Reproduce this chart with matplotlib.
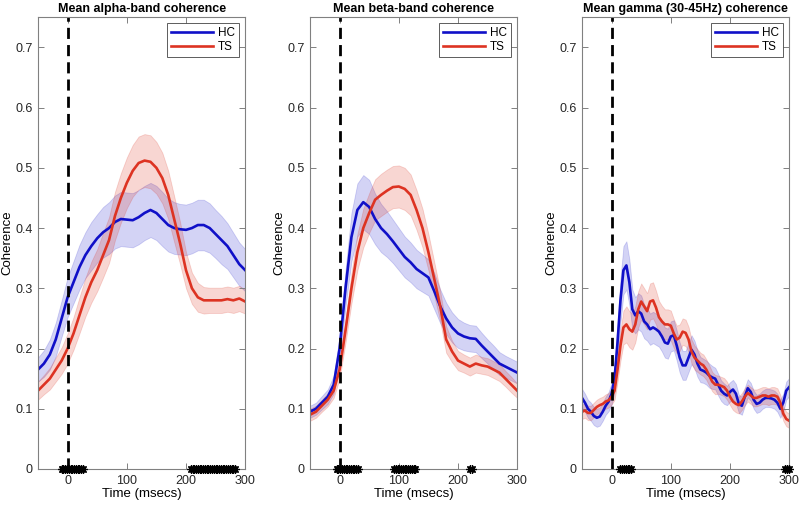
import numpy as np
import matplotlib
matplotlib.use("Agg")
import matplotlib.pyplot as plt

plt.rcParams['font.family'] = ['Liberation Sans', 'DejaVu Sans']

# ---- alpha band ----
t_alpha = [-50, -40, -30, -20, -10, 0, 10, 20, 30, 40, 50, 60, 70, 80, 90, 100, 110, 120,
           130, 140, 150, 160, 170, 180, 190, 200, 210, 220, 230, 240, 250, 260, 270, 280, 290, 300]
hc_alpha = [0.165, 0.175, 0.19, 0.215, 0.25, 0.285, 0.31, 0.335, 0.355, 0.37, 0.383, 0.393,
            0.40, 0.41, 0.415, 0.414, 0.413, 0.418, 0.425, 0.43, 0.425, 0.415, 0.405, 0.40,
            0.398, 0.397, 0.40, 0.405, 0.405, 0.40, 0.39, 0.38, 0.37, 0.355, 0.34, 0.33]
hc_alpha_err = [0.02, 0.022, 0.025, 0.028, 0.03, 0.033, 0.035, 0.037, 0.038, 0.04, 0.04, 0.042,
                0.043, 0.044, 0.045, 0.045, 0.045, 0.045, 0.045, 0.045, 0.045, 0.045, 0.044, 0.043,
                0.042, 0.042, 0.042, 0.042, 0.042, 0.041, 0.04, 0.04, 0.038, 0.037, 0.036, 0.035]
ts_alpha = [0.13, 0.14, 0.15, 0.165, 0.18, 0.20, 0.225, 0.255, 0.285, 0.31, 0.33, 0.355,
            0.38, 0.42, 0.45, 0.475, 0.495, 0.508, 0.512, 0.51, 0.50, 0.483, 0.455, 0.415,
            0.375, 0.33, 0.30, 0.285, 0.28, 0.28, 0.28, 0.28, 0.282, 0.28, 0.283, 0.278]
ts_alpha_err = [0.015, 0.016, 0.018, 0.02, 0.022, 0.025, 0.027, 0.03, 0.032, 0.034, 0.035, 0.037,
                0.038, 0.04, 0.041, 0.042, 0.043, 0.044, 0.044, 0.044, 0.043, 0.042, 0.04, 0.038,
                0.035, 0.03, 0.026, 0.024, 0.022, 0.021, 0.021, 0.021, 0.021, 0.021, 0.021, 0.02]
sig_alpha = [-10, -7, -4, -1, 2, 5, 8, 11, 14, 17, 20, 23, 26,
             208, 211, 214, 217, 220, 223, 226, 229, 232, 235, 238, 241, 244, 247, 250,
             253, 256, 259, 262, 265, 268, 271, 274, 277, 280, 283]

# ---- beta band ----
t_beta = t_alpha
hc_beta = [0.095, 0.10, 0.11, 0.12, 0.14, 0.20, 0.30, 0.385, 0.43, 0.443, 0.435, 0.415,
           0.40, 0.39, 0.378, 0.365, 0.352, 0.343, 0.332, 0.325, 0.318, 0.295, 0.27, 0.25,
           0.235, 0.225, 0.22, 0.217, 0.216, 0.205, 0.195, 0.185, 0.175, 0.17, 0.165, 0.16]
hc_beta_err = [0.01, 0.01, 0.011, 0.012, 0.015, 0.02, 0.03, 0.04, 0.044, 0.045, 0.045, 0.042,
               0.04, 0.038, 0.036, 0.035, 0.034, 0.033, 0.032, 0.031, 0.03, 0.03, 0.028, 0.026,
               0.025, 0.024, 0.023, 0.022, 0.022, 0.021, 0.02, 0.02, 0.019, 0.018, 0.018, 0.018]
ts_beta = [0.09, 0.095, 0.105, 0.115, 0.13, 0.165, 0.23, 0.30, 0.36, 0.40, 0.425, 0.447,
           0.455, 0.462, 0.468, 0.469, 0.465, 0.455, 0.43, 0.40, 0.36, 0.315, 0.27, 0.215,
           0.195, 0.18, 0.175, 0.17, 0.175, 0.172, 0.17, 0.165, 0.16, 0.15, 0.14, 0.13]
ts_beta_err = [0.01, 0.01, 0.01, 0.011, 0.012, 0.015, 0.02, 0.025, 0.03, 0.032, 0.033, 0.034,
               0.035, 0.035, 0.035, 0.035, 0.035, 0.034, 0.033, 0.032, 0.03, 0.028, 0.025, 0.022,
               0.018, 0.016, 0.015, 0.015, 0.015, 0.014, 0.014, 0.014, 0.014, 0.013, 0.013, 0.012]
sig_beta = [-5, -2, 1, 4, 7, 10, 13, 16, 19, 22, 25, 28, 31,
            92, 95, 98, 101, 104, 107, 110, 113, 116, 119, 122, 125, 128,
            221, 223]

# ---- gamma band ----
t_gamma = [-50, -45, -40, -35, -30, -25, -20, -15, -10, -5, 0, 5, 10, 15, 20, 25, 30, 35,
           40, 45, 50, 55, 60, 65, 70, 75, 80, 85, 90, 95, 100, 105, 110, 115, 120, 125,
           130, 135, 140, 145, 150, 155, 160, 165, 170, 175, 180, 185, 190, 195, 200, 205,
           210, 215, 220, 225, 230, 235, 240, 245, 250, 255, 260, 265, 270, 275, 280, 285,
           290, 295, 300]
hc_gamma = [0.118, 0.11, 0.10, 0.095, 0.088, 0.085, 0.087, 0.095, 0.105, 0.112, 0.125, 0.15,
            0.21, 0.28, 0.33, 0.338, 0.31, 0.265, 0.255, 0.262, 0.258, 0.245, 0.24, 0.232,
            0.235, 0.232, 0.228, 0.22, 0.21, 0.208, 0.22, 0.222, 0.205, 0.185, 0.172, 0.172,
            0.185, 0.198, 0.19, 0.175, 0.165, 0.163, 0.16, 0.155, 0.152, 0.15, 0.14, 0.13,
            0.125, 0.122, 0.128, 0.132, 0.125, 0.108, 0.105, 0.12, 0.134, 0.128, 0.115, 0.108,
            0.11, 0.115, 0.118, 0.118, 0.117, 0.115, 0.11, 0.10, 0.11, 0.13, 0.136]
hc_gamma_err = [0.015, 0.015, 0.015, 0.015, 0.015, 0.015, 0.015, 0.015, 0.015, 0.016, 0.018, 0.022,
                0.03, 0.036, 0.04, 0.04, 0.038, 0.033, 0.03, 0.03, 0.03, 0.028, 0.027, 0.026,
                0.026, 0.026, 0.025, 0.025, 0.025, 0.025, 0.025, 0.025, 0.025, 0.025, 0.024, 0.024,
                0.024, 0.024, 0.023, 0.022, 0.021, 0.02, 0.02, 0.02, 0.019, 0.018, 0.018, 0.017,
                0.017, 0.016, 0.016, 0.016, 0.016, 0.015, 0.015, 0.015, 0.015, 0.015, 0.015, 0.015,
                0.015, 0.015, 0.015, 0.015, 0.015, 0.015, 0.015, 0.015, 0.015, 0.015, 0.015]
ts_gamma = [0.095, 0.097, 0.093, 0.093, 0.098, 0.103, 0.106, 0.108, 0.112, 0.114, 0.12, 0.13,
            0.165, 0.205, 0.235, 0.24, 0.232, 0.228, 0.24, 0.265, 0.278, 0.27, 0.262, 0.278,
            0.28, 0.268, 0.252, 0.245, 0.24, 0.24, 0.238, 0.225, 0.215, 0.218, 0.228, 0.226,
            0.215, 0.195, 0.185, 0.18, 0.175, 0.172, 0.165, 0.155, 0.145, 0.14, 0.14, 0.138,
            0.136, 0.13, 0.12, 0.112, 0.108, 0.106, 0.112, 0.12, 0.126, 0.122, 0.118, 0.118,
            0.12, 0.122, 0.122, 0.12, 0.122, 0.122, 0.12, 0.11, 0.092, 0.083, 0.08]
ts_gamma_err = [0.012, 0.012, 0.012, 0.012, 0.012, 0.012, 0.012, 0.012, 0.012, 0.012, 0.013, 0.015,
                0.02, 0.025, 0.028, 0.03, 0.03, 0.03, 0.03, 0.03, 0.03, 0.03, 0.03, 0.03,
                0.03, 0.028, 0.027, 0.026, 0.025, 0.025, 0.025, 0.024, 0.023, 0.022, 0.022, 0.022,
                0.021, 0.02, 0.02, 0.019, 0.018, 0.018, 0.017, 0.017, 0.016, 0.016, 0.015, 0.015,
                0.015, 0.015, 0.014, 0.014, 0.014, 0.014, 0.014, 0.014, 0.014, 0.014, 0.014, 0.014,
                0.014, 0.014, 0.014, 0.014, 0.014, 0.014, 0.014, 0.013, 0.012, 0.012, 0.012]
sig_gamma = [15, 18, 21, 24, 27, 30, 32, 293, 296, 299]

panels = [
    ("Mean alpha-band coherence", t_alpha, hc_alpha, hc_alpha_err, ts_alpha, ts_alpha_err, sig_alpha),
    ("Mean beta-band coherence", t_beta, hc_beta, hc_beta_err, ts_beta, ts_beta_err, sig_beta),
    ("Mean gamma (30-45Hz) coherence", t_gamma, hc_gamma, hc_gamma_err, ts_gamma, ts_gamma_err, sig_gamma),
]

blue = '#1010c8'
red = '#dd3322'
spine_col = '#808080'

fig = plt.figure(figsize=(8, 5.07), dpi=100)
lefts = [0.0475, 0.3875, 0.7275]
for left, (title, t, hc, hce, ts, tse, sig) in zip(lefts, panels):
    ax = fig.add_axes([left, 0.075, 0.259, 0.891])
    t = np.array(t)
    hc, hce, ts, tse = map(np.array, (hc, hce, ts, tse))

    ax.fill_between(t, hc - hce, hc + hce, color=blue, alpha=0.18, linewidth=0.6)
    ax.fill_between(t, ts - tse, ts + tse, color=red, alpha=0.2, linewidth=0.6)
    ax.plot(t, hc, color=blue, lw=1.9, label='HC')
    ax.plot(t, ts, color=red, lw=1.9, label='TS')

    ax.axvline(0, color='black', ls='--', lw=2.0, dashes=(4, 2.2))
    # significant time points marked along the x axis
    ax.plot(sig, np.zeros(len(sig)), ls='none', marker=(8, 2, 0), color='black',
            markersize=6, markeredgewidth=0.9, clip_on=False, zorder=5)

    ax.set_xlim(-50, 300)
    ax.set_ylim(0, 0.75)
    ax.set_xticks([0, 100, 200, 300])
    ax.set_yticks([0, 0.1, 0.2, 0.3, 0.4, 0.5, 0.6, 0.7])
    ax.set_yticklabels(['0', '0.1', '0.2', '0.3', '0.4', '0.5', '0.6', '0.7'])
    ax.tick_params(direction='in', top=True, right=True, length=4, width=0.7,
                   color=spine_col, labelsize=9, labelcolor='#262626', pad=4)
    for s in ax.spines.values():
        s.set_color(spine_col)
        s.set_linewidth(0.8)
    ax.set_title(title, fontsize=9, fontweight='bold', pad=4)
    ax.set_xlabel('Time (msecs)', fontsize=9.5, labelpad=1)
    ax.set_ylabel('Coherence', fontsize=9.5, labelpad=1)

    leg = ax.legend(loc='upper right', fontsize=8.5, handlelength=3.6, frameon=True,
                    fancybox=False, borderpad=0.35, labelspacing=0.15, handletextpad=0.4,
                    borderaxespad=0.5)
    leg.get_frame().set_edgecolor('#333333')
    leg.get_frame().set_linewidth(0.7)

fig.savefig('out.png', dpi=100)
